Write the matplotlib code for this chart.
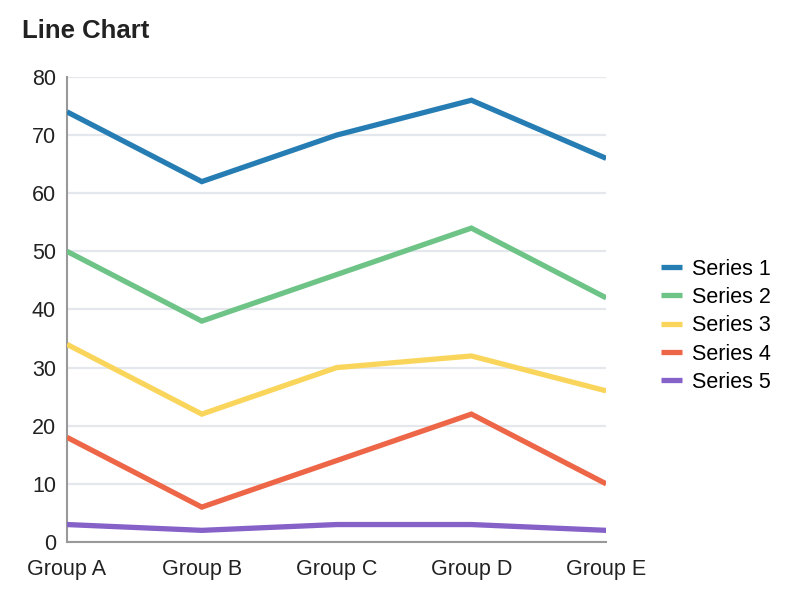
import matplotlib.pyplot as plt

plt.rcParams['font.family'] = ['Liberation Sans', 'DejaVu Sans']

# Datos del gráfico
grupos = ['Group A', 'Group B', 'Group C', 'Group D', 'Group E']
series_nombres = ['Series 1', 'Series 2', 'Series 3', 'Series 4', 'Series 5']
serie1 = [74, 62, 70, 76, 66]
serie2 = [50, 38, 46, 54, 42]
serie3 = [34, 22, 30, 32, 26]
serie4 = [18, 6, 14, 22, 10]
serie5 = [3, 2, 3, 3, 2]
colores = ['#267db3', '#6dc486', '#fad55c', '#ed6647', '#8561c8']
y_ticks = [0, 10, 20, 30, 40, 50, 60, 70, 80]

fig = plt.figure(figsize=(8, 6), dpi=100)
ax = fig.add_axes([0.08375, 0.0967, 0.674, 0.775])

x = list(range(len(grupos)))
for nombre, valores, color in zip(series_nombres, [serie1, serie2, serie3, serie4, serie5], colores):
    ax.plot(x, valores, color=color, linewidth=3.8, label=nombre,
            solid_capstyle='butt', solid_joinstyle='miter', zorder=3)

ax.set_xlim(0, len(grupos) - 1)
ax.set_ylim(0, 80)
ax.set_yticks(y_ticks)
ax.set_xticks(x)
ax.set_xticklabels(grupos)
ax.tick_params(axis='both', length=0, labelsize=15.5, colors='#222222')
ax.tick_params(axis='y', pad=8)
ax.tick_params(axis='x', pad=12)
ax.grid(axis='y', color='#e4e7ec', linewidth=1.6, zorder=0)
ax.set_axisbelow(True)

for lado in ['top', 'right']:
    ax.spines[lado].set_visible(False)
for lado in ['left', 'bottom']:
    ax.spines[lado].set_color('#999999')
    ax.spines[lado].set_linewidth(1.5)

fig.text(0.0275, 0.948, 'Line Chart', fontsize=18.5, fontweight='bold',
         color='#222222', va='center', ha='left')

ax.legend(loc='center left', bbox_to_anchor=(1.102, 0.465), frameon=False,
          fontsize=15.5, handlelength=0.95, handletextpad=0.5,
          labelspacing=0.34, borderpad=0, borderaxespad=0)

fig.savefig('out.png', dpi=100)
